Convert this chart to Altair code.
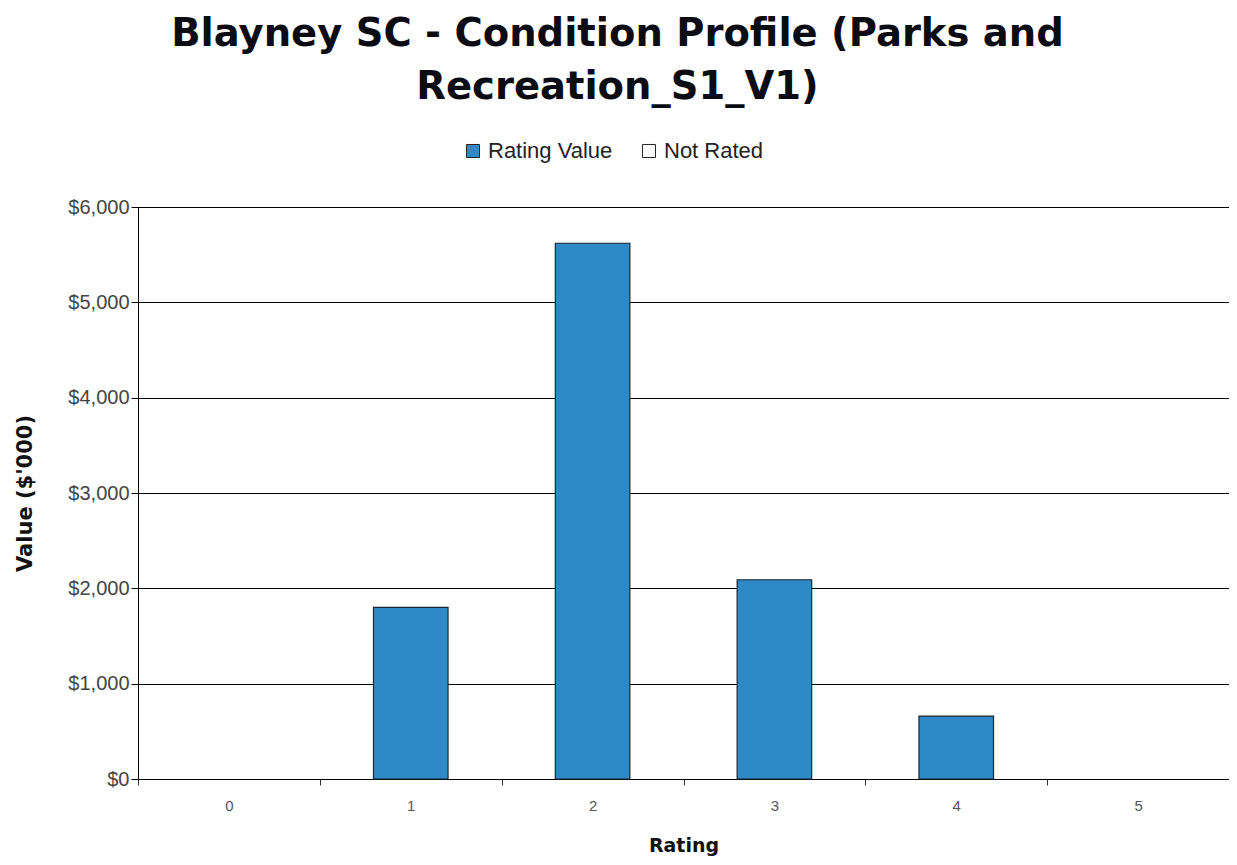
import altair as alt
import pandas as pd

ratings = ["0", "1", "2", "3", "4", "5"]
values = [0, 1800, 5620, 2090, 660, 0]
series = ["Rating Value"] * 6
legend_labels = ["Rating Value", "Not Rated"]
legend_colors = ["#2E89C6", "#FFFFFF"]
y_ticks = [0, 1000, 2000, 3000, 4000, 5000, 6000]

df = pd.DataFrame({"Rating": ratings, "Value": values, "Series": series})

bars = alt.Chart(df).transform_filter(
    alt.datum.Value > 0
).mark_bar(
    stroke="#1b2633", strokeWidth=1.2, width={"band": 0.41}
).encode(
    x=alt.X("Rating:N", title="Rating",
            scale=alt.Scale(domain=ratings, paddingInner=0, paddingOuter=0),
            axis=alt.Axis(labelAngle=0, tickBand="extent", labelFontSize=15,
                          labelColor="#555555", labelPadding=13, tickSize=6,
                          tickColor="#333333", domainColor="#000000",
                          titleFontSize=19, titleFont="DejaVu Sans",
                          titleFontWeight="bold", titlePadding=23,
                          titleColor="#111111", grid=False)),
    y=alt.Y("Value:Q", title="Value ($'000)",
            scale=alt.Scale(domain=[0, 6000], nice=False),
            axis=alt.Axis(values=y_ticks, format="$,.0f", labelFontSize=20,
                          labelColor="#444444", tickSize=7, tickColor="#000000",
                          domainColor="#000000", gridColor="#000000",
                          gridWidth=1.2, gridOpacity=1, labelPadding=2,
                          titleFontSize=21, titleFont="DejaVu Sans",
                          titleFontWeight="bold", titlePadding=32,
                          titleColor="#111111")),
    color=alt.Color("Series:N",
                    scale=alt.Scale(domain=legend_labels, range=legend_colors),
                    legend=alt.Legend(title=None, orient="none", direction="horizontal",
                                      legendX=324, legendY=-67, symbolType="square",
                                      symbolSize=170, symbolStrokeColor="#222222",
                                      symbolStrokeWidth=1, labelFontSize=22,
                                      labelColor="#222222", columnPadding=25,
                                      labelFont="Liberation Sans")),
)

chart = bars.properties(
    width=1091, height=572,
    title=alt.Title(["Blayney SC - Condition Profile (Parks and", "Recreation_S1_V1)"],
                    font="DejaVu Sans", fontSize=38.5, fontWeight="bold",
                    color="#0b0b14", anchor="middle", dx=-66, lineHeight=53,
                    offset=33),
    autosize="none",
    padding={"left": 130, "top": 199, "right": 0, "bottom": 78},
).configure_view(stroke=None).configure_axis(
    labelFont="Liberation Sans", domainWidth=1.2, tickWidth=1
).configure(background="white")

chart.save("out.html", embed_options={"renderer": "svg", "actions": False})
